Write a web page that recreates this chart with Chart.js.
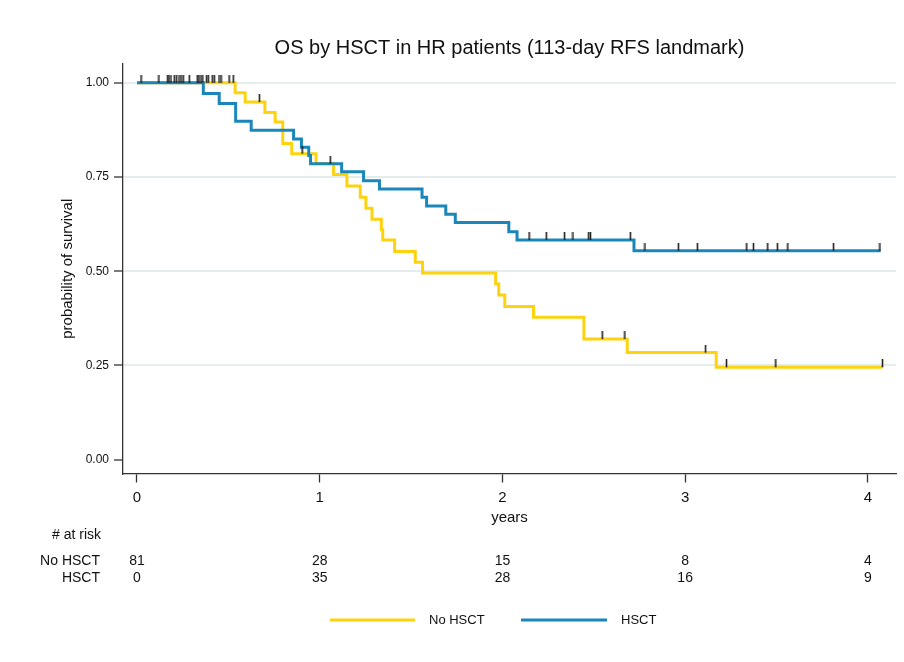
<!DOCTYPE html>
<html>
<head>
<meta charset="utf-8">
<title>OS by HSCT in HR patients</title>
<script src="https://cdn.jsdelivr.net/npm/chart.js@4/dist/chart.umd.min.js"></script>
<style>
  html, body { margin: 0; padding: 0; background: #fff; }
  #wrap { width: 904px; height: 662px; }
</style>
</head>
<body>
<div id="wrap"><canvas id="km" width="904" height="662"></canvas></div>
<script>
// Kaplan-Meier steps: time in years, survival after the drop
const noHsctTimes = [0, 0.537, 0.592, 0.70, 0.756, 0.798, 0.847, 0.98, 1.076, 1.149, 1.222, 1.253,
  1.286, 1.337, 1.345, 1.41, 1.523, 1.563, 1.963, 1.98, 2.013, 2.17, 2.446, 2.683, 3.17, 4.08];
const noHsctSurv = [1.0, 0.974, 0.949, 0.921, 0.896, 0.839, 0.812, 0.786, 0.757, 0.726, 0.696, 0.667,
  0.638, 0.611, 0.583, 0.552, 0.524, 0.495, 0.466, 0.437, 0.406, 0.378, 0.32, 0.284, 0.245, 0.245];

const hsctTimes = [0, 0.363, 0.45, 0.54, 0.625, 0.857, 0.90, 0.94, 0.95, 1.12, 1.24, 1.327,
  1.56, 1.585, 1.69, 1.742, 2.035, 2.08, 2.72, 4.07];
const hsctSurv = [1.0, 0.972, 0.945, 0.898, 0.874, 0.851, 0.829, 0.807, 0.785, 0.764, 0.74, 0.718,
  0.696, 0.673, 0.651, 0.629, 0.605, 0.583, 0.554, 0.554];

// censored observations (tick marks)
const noHsctCensT = [0.022, 0.12, 0.168, 0.175, 0.186, 0.204, 0.217, 0.23, 0.241, 0.253, 0.286, 0.33,
  0.339, 0.35, 0.36, 0.381, 0.39, 0.412, 0.423, 0.449, 0.46, 0.504, 0.527,
  0.67, 0.904, 2.546, 2.67, 3.112, 3.226, 3.496, 4.08];
const noHsctCensS = [1, 1, 1, 1, 1, 1, 1, 1, 1, 1, 1, 1,
  1, 1, 1, 1, 1, 1, 1, 1, 1, 1, 1,
  0.949, 0.812, 0.32, 0.32, 0.284, 0.245, 0.245, 0.245];

const hsctCensT = [1.058, 2.146, 2.24, 2.34, 2.386, 2.472, 2.482, 2.70,
  2.78, 2.963, 3.067, 3.337, 3.374, 3.452, 3.505, 3.562, 3.812, 4.066];
const hsctCensS = [0.785, 0.583, 0.583, 0.583, 0.583, 0.583, 0.583, 0.583,
  0.554, 0.554, 0.554, 0.554, 0.554, 0.554, 0.554, 0.554, 0.554, 0.554];

// number at risk table
const riskTimes = [0, 1, 2, 3, 4];
const riskNoHsct = [81, 28, 15, 8, 4];
const riskHsct = [0, 35, 28, 16, 9];

const xTicks = [0, 1, 2, 3, 4];
const yTicks = [0, 0.25, 0.5, 0.75, 1];

const YELLOW = '#fdd20e';
const BLUE = '#1b86b9';
const FONT = '"Liberation Sans", Arial, Helvetica, sans-serif';

const toXY = (ts, ss) => ts.map((t, i) => ({ x: t, y: ss[i] }));

// little vertical tick that sits on top of the curve
function censorMark() {
  const c = document.createElement('canvas');
  c.width = 3; c.height = 16;
  const g = c.getContext('2d');
  g.fillStyle = '#222';
  g.fillRect(0.7, 0, 1.6, 8);
  return c;
}
const tickImg = censorMark();

const riskTable = {
  id: 'riskTable',
  afterDraw(chart) {
    const ctx = chart.ctx;
    const x = chart.scales.x;
    ctx.save();
    ctx.font = '14px ' + FONT;
    ctx.fillStyle = '#111';
    ctx.textBaseline = 'middle';
    ctx.textAlign = 'left';
    ctx.fillText('# at risk', 52, 535);
    ctx.textAlign = 'right';
    ctx.fillText('No HSCT', 100, 561);
    ctx.fillText('HSCT', 100, 578);
    ctx.textAlign = 'center';
    riskTimes.forEach((t, i) => {
      const px = x.getPixelForValue(t);
      ctx.fillText(String(riskNoHsct[i]), px, 561);
      ctx.fillText(String(riskHsct[i]), px, 578);
    });

    // legend
    ctx.lineWidth = 3;
    ctx.strokeStyle = YELLOW;
    ctx.beginPath(); ctx.moveTo(330, 620); ctx.lineTo(415, 620); ctx.stroke();
    ctx.strokeStyle = BLUE;
    ctx.beginPath(); ctx.moveTo(521, 620); ctx.lineTo(607, 620); ctx.stroke();
    ctx.font = '13px ' + FONT;
    ctx.textAlign = 'left';
    ctx.fillText('No HSCT', 429, 620);
    ctx.fillText('HSCT', 621, 620);
    ctx.restore();
  }
};

new Chart(document.getElementById('km'), {
  type: 'line',
  data: {
    datasets: [
      {
        label: 'No HSCT',
        data: toXY(noHsctTimes, noHsctSurv),
        borderColor: YELLOW,
        backgroundColor: YELLOW,
        borderWidth: 3,
        stepped: true,
        pointRadius: 0,
        fill: false,
        order: 3
      },
      {
        label: 'HSCT',
        data: toXY(hsctTimes, hsctSurv),
        borderColor: BLUE,
        backgroundColor: BLUE,
        borderWidth: 3,
        stepped: true,
        pointRadius: 0,
        fill: false,
        order: 2
      },
      {
        label: 'censored No HSCT',
        data: toXY(noHsctCensT, noHsctCensS),
        showLine: false,
        pointStyle: tickImg,
        pointRadius: 3,
        order: 1
      },
      {
        label: 'censored HSCT',
        data: toXY(hsctCensT, hsctCensS),
        showLine: false,
        pointStyle: tickImg,
        pointRadius: 3,
        order: 1
      }
    ]
  },
  options: {
    responsive: false,
    animation: false,
    layout: { padding: { left: 0, right: 8, top: 0, bottom: 0 } },
    plugins: {
      legend: { display: false },
      tooltip: { enabled: false },
      title: {
        display: true,
        fullSize: false,
        text: 'OS by HSCT in HR patients (113-day RFS landmark)',
        color: '#111',
        font: { family: FONT, size: 20, weight: 'normal' },
        padding: { top: 36, bottom: 4 }
      }
    },
    scales: {
      x: {
        type: 'linear',
        min: -0.0766,
        max: 4.154,
        afterBuildTicks: s => { s.ticks = xTicks.map(v => ({ value: v })); },
        afterFit: s => { s.height = 188.5; },
        border: { display: true, color: '#333', width: 1.3 },
        grid: { drawOnChartArea: false, drawTicks: true, tickLength: 9, tickColor: '#333', tickWidth: 1.3 },
        ticks: { color: '#111', font: { family: FONT, size: 15 }, padding: 6, maxRotation: 0 },
        title: {
          display: true, text: 'years', color: '#111',
          font: { family: FONT, size: 15 },
          padding: { top: 0, bottom: 135 }
        }
      },
      y: {
        type: 'linear',
        min: -0.037,
        max: 1.05,
        afterBuildTicks: s => { s.ticks = yTicks.map(v => ({ value: v })); },
        afterFit: s => { s.width = 123; },
        border: { display: true, color: '#333', width: 1.3 },
        grid: {
          drawOnChartArea: true,
          color: c => (c.tick && c.tick.value === 0) ? 'rgba(0,0,0,0)' : '#e4ecee',
          lineWidth: 2,
          drawTicks: true, tickLength: 9, tickColor: '#333', tickWidth: 1.3
        },
        ticks: {
          color: '#111', font: { family: FONT, size: 12 }, padding: 5,
          callback: v => v.toFixed(2)
        },
        title: {
          display: true, text: 'probability of survival', color: '#111',
          font: { family: FONT, size: 15 },
          padding: { top: 59, bottom: 0 }
        }
      }
    }
  },
  plugins: [riskTable]
});
</script>
</body>
</html>
